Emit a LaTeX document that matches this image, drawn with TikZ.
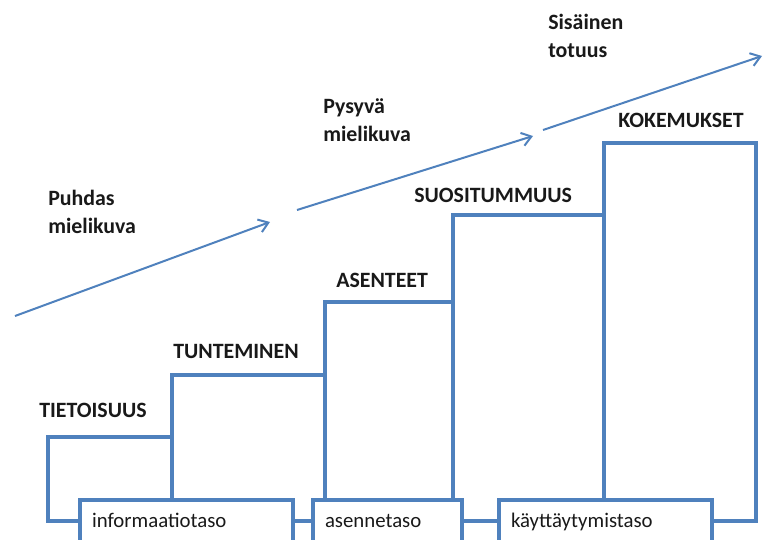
\documentclass[tikz,border=0pt]{standalone}
\usepackage{fontspec}
\setmainfont{Carlito}
\usepackage{tikz}
\usetikzlibrary{arrows.meta}
\usepackage{xcolor}
\definecolor{StepBlue}{RGB}{79,129,189}
\definecolor{InkCol}{RGB}{25,25,25}
\tikzstyle{StepLine}=[StepBlue,line width=2.4pt,line join=miter]
\tikzstyle{RiseArrow}=[StepBlue,line width=1.5pt,-{Straight Barb[length=7pt,width=10pt]}]
\tikzstyle{LevelBox}=[draw=StepBlue,line width=2.4pt,fill=white,inner xsep=9pt,inner ysep=0pt,
minimum height=31.5pt,text height=9pt,text depth=0pt,align=left,text=InkCol,
font=\fontsize{15.6}{19}\selectfont]
\tikzstyle{StepLabel}=[anchor=base west,inner sep=0pt,align=left,text=InkCol,
font=\bfseries\fontsize{16.4}{21}\selectfont]

\begin{document}
\begin{tikzpicture}[x=0.75pt,y=-0.75pt]
        \useasboundingbox (0,0) rectangle (763,539);
        \clip (0,0) rectangle (763,539);
        % level boxes at the foot
        \node[LevelBox,text width=141.75pt](info)at(186.5,521){informaatiotaso};
        \node[LevelBox,text width=93.75pt](asenne)at(387.5,521){asennetaso};
        \node[LevelBox,text width=141.75pt](kayt)at(605.5,521){käyttäytymistaso};
        % corners of the stairs
        \coordinate(c1)at(48,437);
        \coordinate(c2)at(172,375);
        \coordinate(c3)at(325,302);
        \coordinate(c4)at(453,215);
        \coordinate(c5)at(604,143);
        \coordinate(c6)at(756,521);
        \draw[StepLine](info.west)-|(c1)-|(c2)-|(c3)-|(c4)-|(c5)-|(c6)--(kayt.east);
        \draw[StepLine](c2)--(c2|-info.north);
        \draw[StepLine](c3)--(c3|-asenne.north);
        \draw[StepLine](c4)--(c4|-asenne.north);
        \draw[StepLine](c5)--(c5|-kayt.north);
        \draw[StepLine](info)--(asenne);
        \draw[StepLine](asenne)--(kayt);
        % step names
        \node[StepLabel](tieto)at(39,417){TIETOISUUS};
        \node[StepLabel](tunte)at(173,358){TUNTEMINEN};
        \node[StepLabel](asent)at(336,287){ASENTEET};
        \node[StepLabel](suosi)at(414,202){SUOSITUMMUUS};
        \node[StepLabel](kokem)at(618,127){KOKEMUKSET};
        % rising arrows
        \coordinate(a1s)at(15,316);
        \coordinate(a1e)at(270,222);
        \coordinate(a2s)at(297,210);
        \coordinate(a2e)at(533,136);
        \coordinate(a3s)at(543,130);
        \coordinate(a3e)at(762,56);
        \draw[RiseArrow](a1s)--(a1e);
        \draw[RiseArrow](a2s)--(a2e);
        \draw[RiseArrow](a3s)--(a3e);
        % two-line names sit on their last baseline
        \node[StepLabel](puhdas)at(48,233){Puhdas\\mielikuva};
        \node[StepLabel](pysyva)at(323,141){Pysyvä\\mielikuva};
        \node[StepLabel](sisain)at(548,57){Sisäinen\\totuus};
    \end{tikzpicture}
\end{document}
